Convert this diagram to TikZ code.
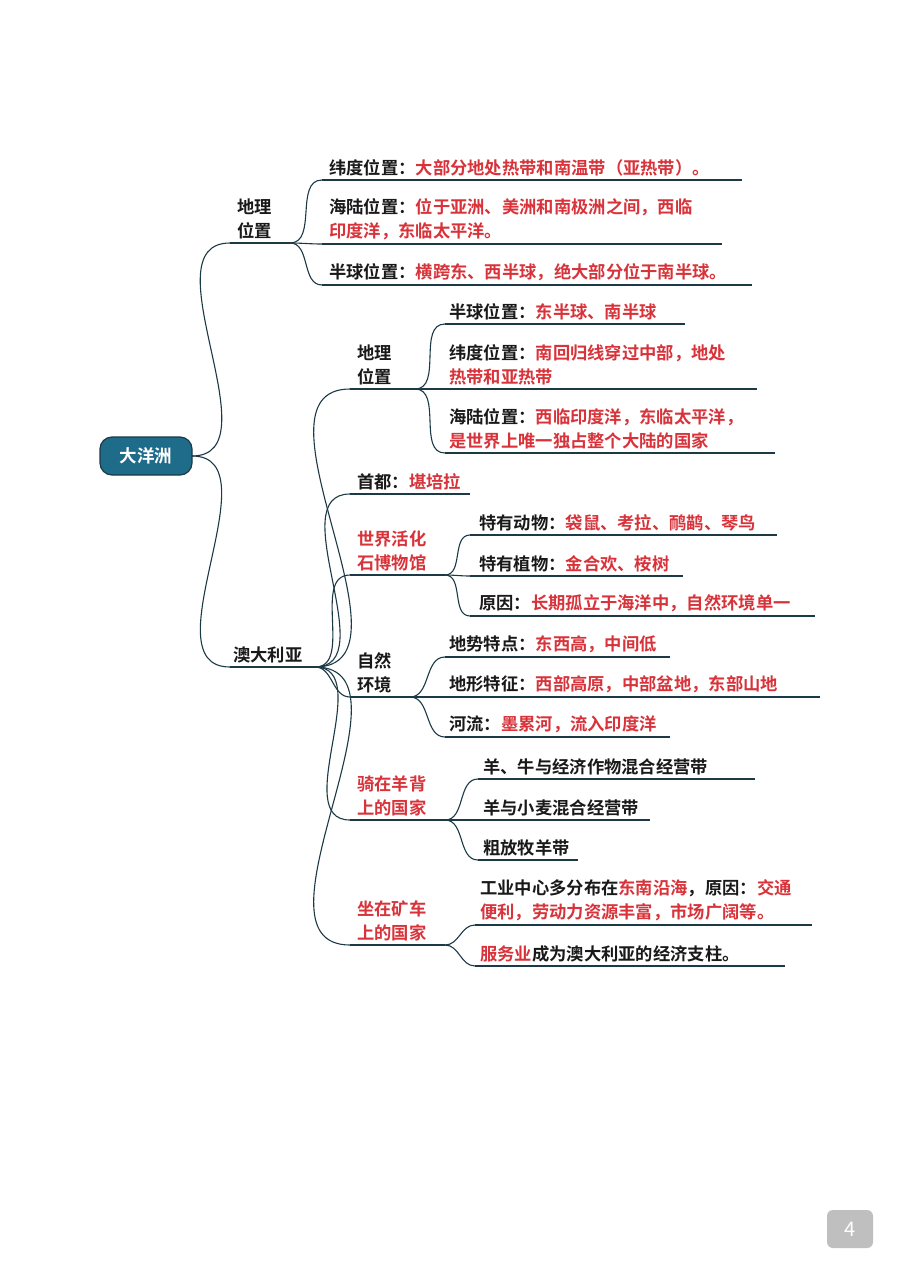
\documentclass[tikz,border=0pt]{standalone}
\usepackage{fontspec}
\setmainfont{Noto Sans CJK SC}[BoldFont={* Bold}]
\definecolor{rd}{HTML}{D8333A}
\definecolor{ln}{HTML}{1C3A45}
\definecolor{teal}{HTML}{1F6B8A}
\newcommand\R[1]{\textcolor{rd}{#1}}
\tikzset{
 uline/.style={ln,line width=1.8pt},
 conn/.style={ln,line width=1.1pt},
 txt/.style={anchor=south west,inner sep=0pt,align=left,font=\fontsize{17.3}{23.5}\selectfont\bfseries,text=black!90}
}
\newcommand\leaf[6]{%
 \coordinate (#1-s) at (#2,#4);
 \coordinate (#1-e) at (#3,#4);
 \node[txt] (#1) at (#5,#4-4) {#6};
 \draw[uline] (#1-s) -- (#1-e);}
\begin{document}
\begin{tikzpicture}[x=1pt,y=-1pt]
\useasboundingbox[fill=white] (0,0) rectangle (905,1280);
% root
\node[draw=ln,line width=1.2pt,fill=teal,rounded corners=12pt,minimum width=92pt,minimum height=38pt,font=\fontsize{17.5}{20}\selectfont\bfseries,text=white] (root) at (146,456) {大洋洲};
\coordinate (root-e) at (192,456);
% level 1
\leaf{g}{230}{290}{243}{237}{地理\\位置}
\leaf{a}{230}{315}{667}{233}{澳大利亚}
\draw[conn] (root-e) to[out=0,in=180] (g-s);
\draw[conn] (root-e) to[out=0,in=180] (a-s);
% geo children
\leaf{g1}{322}{742}{180}{329}{纬度位置：\R{大部分地处热带和南温带（亚热带）。}}
\leaf{g2}{322}{722}{244}{329}{海陆位置：\R{位于亚洲、美洲和南极洲之间，西临}\\\R{印度洋，东临太平洋。}}
\leaf{g3}{322}{752}{285}{329}{半球位置：\R{横跨东、西半球，绝大部分位于南半球。}}
\foreach \c in {g1,g2,g3} \draw[conn] (g-e) to[out=0,in=180] (\c-s);
% australia children
\leaf{b}{350}{415}{389}{357}{地理\\位置}
\leaf{c}{350}{470}{494}{357}{首都：\R{堪培拉}}
\leaf{d}{350}{445}{575}{357}{\R{世界活化}\\\R{石博物馆}}
\leaf{e}{350}{410}{697}{357}{自然\\环境}
\leaf{f}{350}{445}{820}{357}{\R{骑在羊背}\\\R{上的国家}}
\leaf{h}{350}{445}{945}{357}{\R{坐在矿车}\\\R{上的国家}}
\foreach \c in {b,c,d,e,f,h} \draw[conn] (a-e) to[out=0,in=180] (\c-s);
% b
\leaf{b1}{445}{685}{324}{449}{半球位置：\R{东半球、南半球}}
\leaf{b2}{445}{757}{389}{449}{纬度位置：\R{南回归线穿过中部，地处}\\\R{热带和亚热带}}
\leaf{b3}{445}{775}{453}{449}{海陆位置：\R{西临印度洋，东临太平洋，}\\\R{是世界上唯一独占整个大陆的国家}}
\foreach \c in {b1,b2,b3} \draw[conn] (b-e) to[out=0,in=180] (\c-s);
% d
\leaf{d1}{470}{777}{535}{479}{特有动物：\R{袋鼠、考拉、鸸鹋、琴鸟}}
\leaf{d2}{470}{683}{576}{479}{特有植物：\R{金合欢、桉树}}
\leaf{d3}{470}{815}{616}{479}{原因：\R{长期孤立于海洋中，自然环境单一}}
\foreach \c in {d1,d2,d3} \draw[conn] (d-e) to[out=0,in=180] (\c-s);
% e
\leaf{e1}{445}{670}{657}{449}{地势特点：\R{东西高，中间低}}
\leaf{e2}{445}{820}{697}{449}{地形特征：\R{西部高原，中部盆地，东部山地}}
\leaf{e3}{445}{670}{737}{449}{河流：\R{墨累河，流入印度洋}}
\foreach \c in {e1,e2,e3} \draw[conn] (e-e) to[out=0,in=180] (\c-s);
% f
\leaf{f1}{478}{755}{779}{483}{羊、牛与经济作物混合经营带}
\leaf{f2}{478}{650}{820}{483}{羊与小麦混合经营带}
\leaf{f3}{478}{578}{860}{483}{粗放牧羊带}
\foreach \c in {f1,f2,f3} \draw[conn] (f-e) to[out=0,in=180] (\c-s);
% h
\leaf{h1}{475}{812}{925}{480}{工业中心多分布在\R{东南沿海}，原因：\R{交通}\\\R{便利，劳动力资源丰富，市场广阔等。}}
\leaf{h2}{475}{785}{966}{480}{\R{服务业}成为澳大利亚的经济支柱。}
\foreach \c in {h1,h2} \draw[conn] (h-e) to[out=0,in=180] (\c-s);
% page number
\node[fill=black!25,rounded corners=6pt,minimum width=46pt,minimum height=38pt,text=white,font=\fontsize{20}{24}\selectfont] (pg) at (850,1229) {4};
\end{tikzpicture}
\end{document}
